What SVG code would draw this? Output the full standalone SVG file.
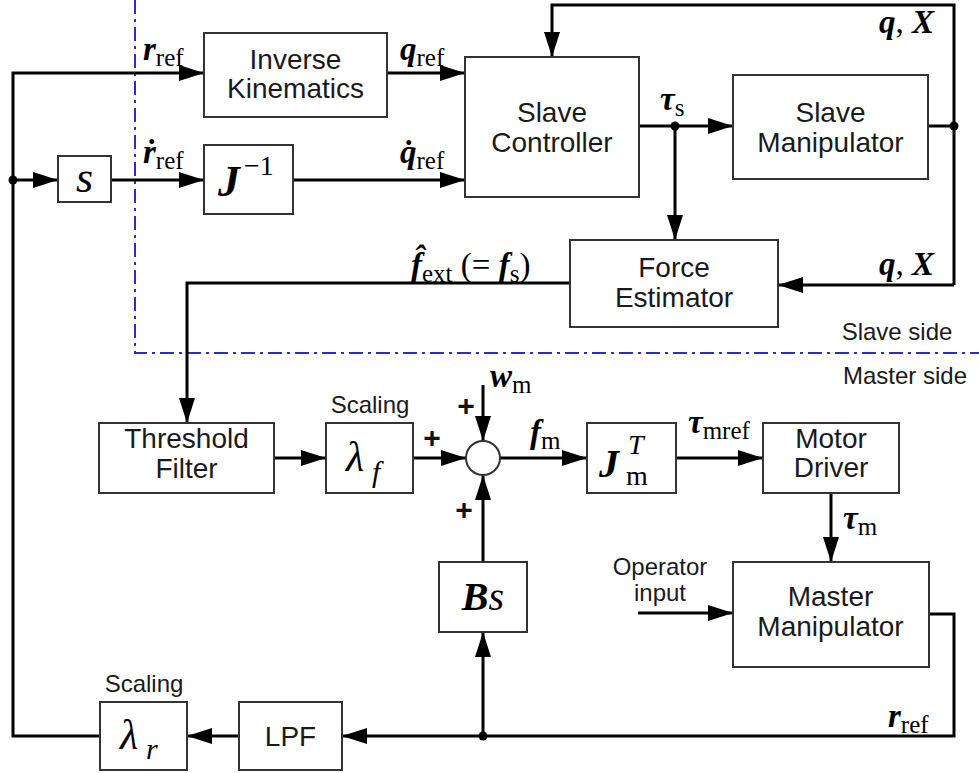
<svg xmlns="http://www.w3.org/2000/svg" width="979" height="773" viewBox="0 0 979 773">
<defs>
<marker id="ah" markerUnits="userSpaceOnUse" markerWidth="26" markerHeight="16" refX="25" refY="8" orient="auto">
<path d="M0,0 L25,8 L0,16 Z" fill="#000"/>
</marker>
<style>
.box{fill:#fff;stroke:#333;stroke-width:2}
.w{fill:none;stroke:#000;stroke-width:3}
.a{marker-end:url(#ah)}
.dot{fill:#000}
.t{font-family:"Liberation Sans",Arial,sans-serif;font-size:28px;text-anchor:middle;fill:#1a1a1a}
.s{font-size:24px}
.m{font-family:"Liberation Serif","Times New Roman",serif;font-size:33px;fill:#000}
.bi{font-weight:bold;font-style:italic}
.it{font-style:italic}
.sub{font-size:25px;font-weight:normal;font-style:normal}
.f44{font-size:44px}
.f42{font-size:42px}
.f40{font-size:40px}
.f30{font-size:30px}
.f28{font-size:28px}
.mid{text-anchor:middle}
.pl{font-family:"Liberation Sans",Arial,sans-serif;font-size:30px;font-weight:bold;text-anchor:middle;fill:#111}
</style>
</defs>
<rect width="979" height="773" fill="#fff"/>
<path d="M135,0 V353 H979" fill="none" stroke="#2b2bd0" stroke-width="2" stroke-dasharray="14 5 3 5"/>
<g id="connectors">
<path class="w a" d="M100,736 H13 V73 H204"/>
<path class="w a" d="M13,180 H58"/>
<path class="w a" d="M111,180 H204"/>
<path class="w a" d="M387,73 H465"/>
<path class="w a" d="M293,180 H465"/>
<path class="w a" d="M639,126 H733"/>
<path class="w a" d="M675,126 V240"/>
<path class="w" d="M928,126 H954"/>
<path class="w a" d="M954,285 V5 H552 V57"/>
<path class="w a" d="M954,285 H778"/>
<path class="w a" d="M570,283 H187 V423"/>
<path class="w a" d="M274,458 H326"/>
<path class="w a" d="M413,458 H466"/>
<path class="w a" d="M483,385 V441"/>
<path class="w a" d="M500,458 H587"/>
<path class="w a" d="M676,458 H763"/>
<path class="w a" d="M831,493 V562"/>
<path class="w a" d="M638,613 H733"/>
<path class="w a" d="M929,614 H954 V736 H342"/>
<path class="w a" d="M483,736 V632"/>
<path class="w a" d="M483,562 V475"/>
<path class="w a" d="M239,736 H187"/>
<circle class="dot" cx="13" cy="180" r="4.5"/>
<circle class="dot" cx="675" cy="126" r="4.5"/>
<circle class="dot" cx="954" cy="126" r="4.5"/>
<circle class="dot" cx="483" cy="736" r="4.5"/>
</g>
<g id="ik"><rect class="box" x="204" y="33" width="183" height="84"/><text class="t" x="295.5" y="69">Inverse</text><text class="t" x="295.5" y="98">Kinematics</text></g>
<g id="sbox"><rect class="box" x="58" y="156" width="53" height="46"/><text class="m it f44 mid" x="84.5" y="192">s</text></g>
<g id="jinv"><rect class="box" x="204" y="145" width="89" height="69"/><text class="m bi f44" x="218" y="196">J</text><text class="m f28" x="244" y="175">−1</text></g>
<g id="sc"><rect class="box" x="465" y="57" width="174" height="140"/><text class="t" x="552" y="122">Slave</text><text class="t" x="552" y="152">Controller</text></g>
<g id="sm"><rect class="box" x="733" y="75" width="195" height="104"/><text class="t" x="830.5" y="122">Slave</text><text class="t" x="830.5" y="152">Manipulator</text></g>
<g id="fe"><rect class="box" x="570" y="240" width="208" height="87"/><text class="t" x="674" y="277">Force</text><text class="t" x="674" y="307">Estimator</text></g>
<g id="tf"><rect class="box" x="99" y="423" width="175" height="70"/><text class="t" x="186.5" y="448">Threshold</text><text class="t" x="186.5" y="478">Filter</text></g>
<g id="lf"><rect class="box" x="326" y="423" width="87" height="70"/><text class="m it f42" x="346" y="471">λ</text><text class="m it f30" x="372" y="482">f</text><text class="t s" x="370" y="413">Scaling</text></g>
<g id="sum"><circle cx="483" cy="458" r="17" fill="#fff" stroke="#333" stroke-width="2"/></g>
<g id="jm"><rect class="box" x="587" y="423" width="89" height="70"/><text class="m bi f40" x="599" y="477">J</text><text class="m it f28" x="628" y="454">T</text><text class="m f28" x="626" y="485">m</text></g>
<g id="md"><rect class="box" x="763" y="423" width="136" height="70"/><text class="t" x="831" y="448">Motor</text><text class="t" x="831" y="477">Driver</text></g>
<g id="mm"><rect class="box" x="733" y="562" width="196" height="105"/><text class="t" x="830.5" y="606">Master</text><text class="t" x="830.5" y="636">Manipulator</text></g>
<g id="bs"><rect class="box" x="439" y="562" width="88" height="70"/><text class="m f40 mid" x="483" y="610"><tspan class="bi">B</tspan><tspan class="it">s</tspan></text></g>
<g id="lpf"><rect class="box" x="239" y="702" width="103" height="68"/><text class="t" x="290.5" y="746">LPF</text></g>
<g id="lr"><rect class="box" x="100" y="702" width="87" height="68"/><text class="m it f42" x="120" y="749">λ</text><text class="m it f30" x="146" y="759">r</text><text class="t s" x="144" y="692">Scaling</text></g>
<g id="labels">
<text class="m" x="143" y="60"><tspan class="bi">r</tspan><tspan class="sub" dy="6">ref</tspan></text>
<text class="m" x="400" y="60"><tspan class="bi">q</tspan><tspan class="sub" dy="6">ref</tspan></text>
<text class="m" x="143" y="163"><tspan class="bi">ṙ</tspan><tspan class="sub" dy="6">ref</tspan></text>
<text class="m" x="400" y="163"><tspan class="bi">q̇</tspan><tspan class="sub" dy="6">ref</tspan></text>
<text class="m" x="934" y="33" text-anchor="end"><tspan class="bi">q</tspan>, <tspan class="bi">X</tspan></text>
<text class="m" x="934" y="275" text-anchor="end"><tspan class="bi">q</tspan>, <tspan class="bi">X</tspan></text>
<text class="m" x="660" y="110"><tspan class="bi">τ</tspan><tspan class="sub" dy="6">s</tspan></text>
<text class="m" x="411" y="276"><tspan class="bi">f̂</tspan><tspan class="sub" dy="6">ext</tspan><tspan dy="-6">  (= </tspan><tspan class="bi">f</tspan><tspan class="sub" dy="6">s</tspan><tspan dy="-6">)</tspan></text>
<text class="t s" x="897" y="340">Slave side</text>
<text class="t s" x="905" y="384">Master side</text>
<text class="m" x="490" y="387"><tspan class="bi">w</tspan><tspan class="sub" dy="6">m</tspan></text>
<text class="m" x="530" y="443"><tspan class="bi">f</tspan><tspan class="sub" dy="6">m</tspan></text>
<text class="m" x="688" y="433"><tspan class="bi">τ</tspan><tspan class="sub" dy="6">mref</tspan></text>
<text class="m" x="843" y="529"><tspan class="bi">τ</tspan><tspan class="sub" dy="6">m</tspan></text>
<text class="m" x="888" y="727"><tspan class="bi">r</tspan><tspan class="sub" dy="6">ref</tspan></text>
<text class="t s" x="660" y="575">Operator</text>
<text class="t s" x="660" y="601">input</text>
<text class="pl" x="466" y="416">+</text>
<text class="pl" x="432" y="448">+</text>
<text class="pl" x="464" y="520">+</text>
</g>
</svg>
